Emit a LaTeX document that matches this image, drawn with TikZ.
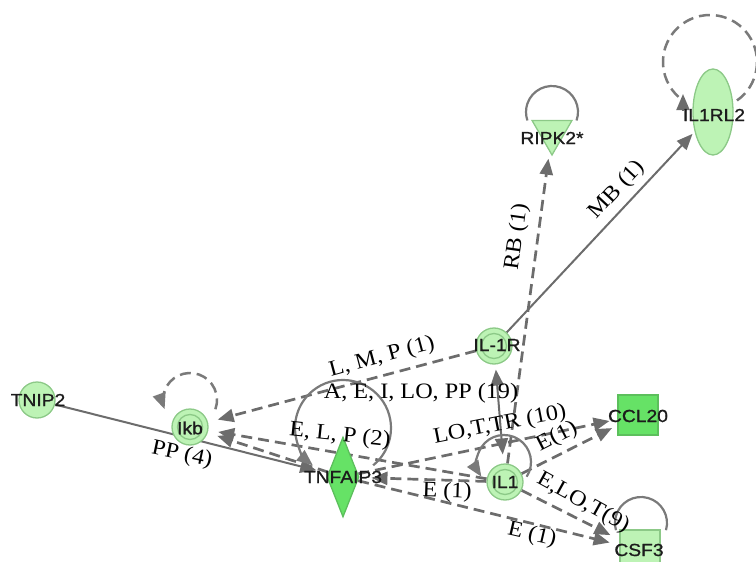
\documentclass[tikz,border=0pt]{standalone}
\usepackage{fontspec}
\setmainfont{Liberation Serif}[FakeStretch=1.1]
\newfontfamily\genefont{Liberation Sans}[FakeStretch=1.1, FakeBold=1]
\usetikzlibrary{arrows.meta,shapes.geometric,calc}
\pgfdeclarelayer{links}
\pgfsetlayers{links,main}

\definecolor{palegreen}{HTML}{BDF3B5}
\definecolor{deepgreen}{HTML}{66E266}
\definecolor{rimgreen}{HTML}{8CC987}
\definecolor{deeprim}{HTML}{5CBF5C}
\definecolor{linkgray}{HTML}{6C6C6C}
\definecolor{loopgray}{HTML}{7A7A7A}
\definecolor{namegray}{HTML}{1C1C1C}

\tikzset{
  gene/.style={fill=palegreen, draw=rimgreen, line width=1.3pt, inner sep=0pt},
  genestrong/.style={gene, fill=deepgreen, draw=deeprim},
  genecircle/.style={gene, circle, minimum size=36pt},
  ring/.style={draw=rimgreen, line width=1.3pt},
  genename/.style={font=\genefont\fontsize{17.5}{18}\selectfont, text=namegray, inner sep=0pt},
  rel/.style={font=\fontsize{22}{24}\selectfont, text=black, inner sep=0pt},
  link/.style={draw=linkgray, line width=2pt},
  dashlink/.style={link, line width=2.7pt, dash pattern=on 11pt off 6pt},
  tipped/.style={-{Triangle[length=16pt,width=13pt]}},
  loopline/.style={draw=loopgray, line width=2.2pt},
  dashloop/.style={loopline, line width=2.5pt, dash pattern=on 11pt off 6pt},
}

\begin{document}
\begin{tikzpicture}[x=1pt, y=-1pt]
\useasboundingbox (0,0) rectangle (756,562);

% molecules
\node[genecircle] (tnip2) at (37,400) {};
\node[genecircle] (ikb) at (190,427) {};
\node[genecircle] (il1r) at (494,346) {};
\node[genecircle] (il1) at (505,482) {};
\node[genestrong, diamond, minimum width=32pt, minimum height=80pt] (tnfaip3) at (343,477) {};
\node[genestrong, rectangle, minimum size=40pt] (ccl20) at (638,415) {};
\node[gene, rectangle, minimum size=40pt] (csf3) at (640,550) {};
\node[gene, regular polygon, regular polygon sides=3, shape border rotate=180, minimum size=46pt] (ripk2) at (552,132) {};
\node[gene, ellipse, minimum width=40pt, minimum height=86pt] (il1rl2) at (713,112) {};

% inner rings of the complexes
\draw[ring] (ikb.center) circle (12.5);
\draw[ring] (il1r.center) circle (12.5);
\draw[ring] (il1.center) circle (12.5);

% molecule names
\node[genename] (tnip2-name) at (38,400) {TNIP2};
\node[genename] (ikb-name) at (190,428) {Ikb};
\node[genename] (il1r-name) at (497,345) {IL-1R};
\node[genename] (il1-name) at (505,482) {IL1};
\node[genename] (tnfaip3-name) at (343,477) {TNFAIP3};
\node[genename] (ccl20-name) at (638,416) {CCL20};
\node[genename] (csf3-name) at (639,550) {CSF3};
\node[genename] (ripk2-name) at (552,138) {RIPK2*};
\node[genename] (il1rl2-name) at (714,115) {IL1RL2};

% relationships
\begin{pgfonlayer}{links}
\draw[link, tipped, shorten >=12pt] (tnip2) -- (tnfaip3);
\draw[dashlink, tipped, shorten >=10pt] (il1r) -- (ikb);
\draw[dashlink, tipped, shorten >=10pt] (il1) -- (ikb);
\draw[dashlink, tipped, shorten >=10pt] (tnfaip3) -- (ikb);
\draw[link, {Triangle[length=16pt,width=13pt]}-{Triangle[length=16pt,width=13pt]}, shorten <=5pt, shorten >=9pt] (il1r) -- (il1);
\draw[link, tipped, shorten >=3pt] (il1r) -- (il1rl2);
\draw[dashlink, tipped, shorten >=7pt] (il1) -- (ripk2);
\draw[dashlink, tipped, shorten >=8pt] (tnfaip3) -- (ccl20);
\draw[dashlink, tipped, shorten >=6pt] (il1) -- (ccl20);
\draw[dashlink, tipped, shorten >=12pt] (il1) -- (tnfaip3);
\draw[dashlink, tipped, shorten >=10pt] (tnfaip3) -- (csf3);
\draw[dashlink, tipped, shorten >=10pt] (il1) -- (csf3);

% self loops
\draw[dashloop, tipped] ($(ikb.center)+(0,-27)$) ++(20:27) arc[start angle=20, end angle=-200, radius=27];
\draw[loopline, tipped] ($(tnfaip3.center)+(0,-49)$) ++(51:48) arc[start angle=51, end angle=-231, radius=48];
\draw[loopline, tipped] ($(il1.center)+(-1,-20)$) ++(33:27) arc[start angle=33, end angle=-213, radius=27];
\draw[loopline] ($(csf3.center)+(1,-27)$) ++(16:26) arc[start angle=16, end angle=-196, radius=26];
\draw[loopline] ($(ripk2.center)+(0,-20)$) ++(19:26) arc[start angle=19, end angle=-199, radius=26];
\draw[dashloop] ($(il1rl2.center)+(-3,-50)$) coordinate (il1rl2-loop) ++(55:47) arc[start angle=55, end angle=-235, radius=47];
\draw[link, tipped] ($(il1rl2-loop)+(-27,48)$) -- ($(il1rl2-loop)+(-27,32)$);
\end{pgfonlayer}

% relationship labels
\node[rel, rotate=-12] (lbl-pp4) at (182,455) {PP (4)};
\node[rel, rotate=15] (lbl-lmp) at (382,357) {L, M, P (1)};
\node[rel] (lbl-aei) at (421,393) {A, E, I, LO, PP (19)};
\node[rel, rotate=-6] (lbl-elp) at (340,436) {E, L, P (2)};
\node[rel, rotate=11] (lbl-lot) at (500,425) {LO,T,TR (10)};
\node[rel, rotate=27] (lbl-e1a) at (557,437) {E(1)};
\node[rel, rotate=-2] (lbl-e1b) at (447,492) {E (1)};
\node[rel, rotate=-13] (lbl-e1c) at (532,535) {E (1)};
\node[rel, rotate=-29] (lbl-elot) at (583,503) {E,LO,T(9)};
\node[rel, rotate=82] (lbl-rb) at (517,237) {RB (1)};
\node[rel, rotate=47] (lbl-mb) at (617,190) {MB (1)};
\end{tikzpicture}
\end{document}
